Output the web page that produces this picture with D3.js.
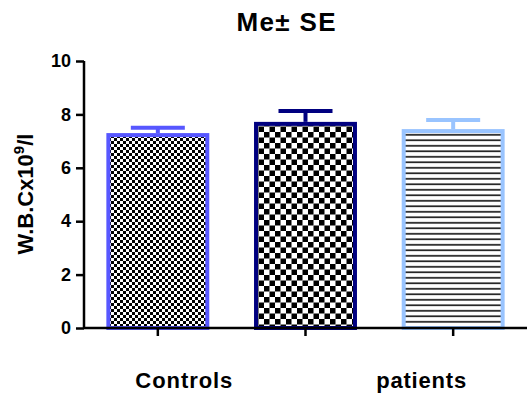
<!DOCTYPE html>
<html>
<head>
<meta charset="utf-8">
<script src="https://cdn.jsdelivr.net/npm/d3@7"></script>
<style>
  body { margin: 0; background: #fff; }
  text { font-family: "Liberation Sans", Arial, sans-serif; font-weight: bold; fill: #000; }
</style>
</head>
<body>
<div id="chart"></div>
<script>
// Chart data
const groups = ["g1", "g2", "g3"];
const means = [7.3, 7.72, 7.45];
const errors = [0.2, 0.41, 0.34];
const colors = ["#5757ff", "#000080", "#99c4ff"];
const patterns = ["checkSmall", "checkBig", "hlines"];
const yTicks = [0, 2, 4, 6, 8, 10];
const catLabels = ["Controls", "patients"];

const width = 527, height = 394;
const margin = { top: 61, right: 0, bottom: 66, left: 84 };

const svg = d3.select("#chart").append("svg")
    .attr("width", width)
    .attr("height", height);

// fill patterns
const defs = svg.append("defs");
function checker(id, s) {
    const p = defs.append("pattern")
        .attr("id", id)
        .attr("patternUnits", "userSpaceOnUse")
        .attr("width", s * 2).attr("height", s * 2);
    p.append("rect").attr("width", s * 2).attr("height", s * 2).attr("fill", "#fff");
    p.append("rect").attr("width", s).attr("height", s).attr("fill", "#000");
    p.append("rect").attr("x", s).attr("y", s).attr("width", s).attr("height", s).attr("fill", "#000");
}
checker("checkSmall", 3);
checker("checkBig", 5.5);
const hp = defs.append("pattern")
    .attr("id", "hlines")
    .attr("patternUnits", "userSpaceOnUse")
    .attr("width", 10).attr("height", 5.5);
hp.append("rect").attr("width", 10).attr("height", 5.5).attr("fill", "#fff");
hp.append("rect").attr("y", 2).attr("width", 10).attr("height", 1.6).attr("fill", "#111");

const x = d3.scaleBand()
    .domain(groups)
    .range([margin.left, width - margin.right])
    .paddingInner(0.33)
    .paddingOuter(0.165);

const y = d3.scaleLinear()
    .domain([0, 10])
    .range([height - margin.bottom, margin.top]);

// error bars (behind bars)
const eb = svg.append("g");
groups.forEach((g, i) => {
    const cx = x(g) + x.bandwidth() / 2;
    eb.append("line")
        .attr("x1", cx).attr("x2", cx)
        .attr("y1", y(means[i])).attr("y2", y(means[i] + errors[i]))
        .attr("stroke", colors[i]).attr("stroke-width", 4);
    eb.append("line")
        .attr("x1", cx - 27).attr("x2", cx + 27)
        .attr("y1", y(means[i] + errors[i])).attr("y2", y(means[i] + errors[i]))
        .attr("stroke", colors[i]).attr("stroke-width", 4);
});

// bars
svg.append("g")
    .selectAll("rect")
    .data(groups)
    .enter().append("rect")
    .attr("x", d => x(d))
    .attr("y", (d, i) => y(means[i]) + 2)
    .attr("width", x.bandwidth())
    .attr("height", (d, i) => y(0) - y(means[i]) - 2)
    .attr("fill", (d, i) => `url(#${patterns[i]})`)
    .attr("stroke", (d, i) => colors[i])
    .attr("stroke-width", 4);

// y axis
const yAxis = svg.append("g")
    .attr("transform", `translate(${margin.left},0)`)
    .call(d3.axisLeft(y).tickValues(yTicks).tickSize(8).tickPadding(5));
yAxis.selectAll("path, line").attr("stroke", "#000").attr("stroke-width", 2.5);
yAxis.select(".domain").attr("d", `M0,${y(10)}V${y(0)}`);
yAxis.selectAll("text").style("font-size", "18px").style("font-weight", "bold")
    .style("font-family", "Liberation Sans, Arial, sans-serif");

// x axis
const xAxis = svg.append("g")
    .attr("transform", `translate(0,${y(0)})`)
    .call(d3.axisBottom(x).tickSize(8).tickFormat(""));
xAxis.selectAll("path, line").attr("stroke", "#000").attr("stroke-width", 2.5);
xAxis.select(".domain").attr("d", `M${margin.left},0H${width}`);

// category labels
svg.append("text")
    .attr("x", x(groups[0]) + x.bandwidth() / 2 + 26)
    .attr("y", 388)
    .attr("text-anchor", "middle")
    .style("font-size", "22px")
    .attr("textLength", 97)
    .text(catLabels[0]);
svg.append("text")
    .attr("x", x(groups[2]) + x.bandwidth() / 2 - 32)
    .attr("y", 388)
    .attr("text-anchor", "middle")
    .style("font-size", "22px")
    .attr("textLength", 90)
    .text(catLabels[1]);

// title
svg.append("text")
    .attr("x", 286)
    .attr("y", 31)
    .attr("text-anchor", "middle")
    .style("font-size", "26px")
    .attr("textLength", 99)
    .text("Me± SE");

// y axis title
const yt = svg.append("text")
    .attr("transform", "translate(33,194) rotate(-90)")
    .attr("text-anchor", "middle")
    .style("font-size", "22px");
yt.append("tspan").text("W.B.Cx10");
yt.append("tspan").attr("dy", -9).style("font-size", "15px").text("9");
yt.append("tspan").attr("dy", 9).text("/l");
</script>
</body>
</html>
